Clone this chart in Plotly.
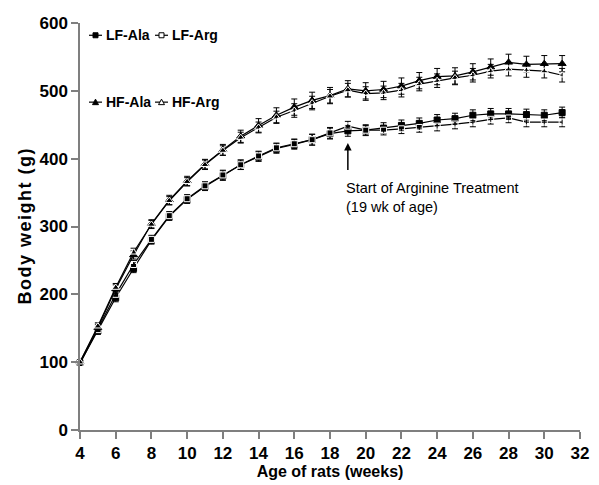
import plotly.graph_objects as go

weeks = list(range(4, 32))

lf_ala = [99, 146, 195, 238, 280, 315, 340, 359, 375, 391, 403, 415, 421, 428,
          437, 441, 442, 445, 449, 452, 457, 459, 464, 466, 466, 465, 464, 468]
lf_arg = [98, 148, 200, 244, 281, 316, 341, 360, 376, 391, 404, 416, 422, 428,
          438, 448, 442, 442, 444, 446, 448, 451, 454, 458, 460, 454, 454, 454]
hf_ala = [100, 151, 208, 258, 304, 339, 367, 392, 413, 433, 449, 464, 476, 486,
          493, 503, 500, 502, 507, 515, 521, 522, 528, 535, 542, 539, 540, 540]
hf_arg = [100, 153, 210, 262, 303, 338, 366, 391, 412, 431, 446, 461, 471, 482,
          492, 501, 496, 497, 501, 510, 515, 519, 523, 529, 532, 530, 529, 523]

lf_ala_err = [3, 5, 6, 6, 6, 6, 6, 6, 7, 7, 7, 7, 7, 8, 8, 8, 8, 8, 8, 8, 8, 8, 8, 8, 8, 8, 8, 8]
lf_arg_err = [3, 5, 6, 6, 6, 6, 6, 6, 7, 7, 7, 7, 7, 8, 8, 7, 7, 7, 7, 7, 7, 7, 7, 7, 7, 7, 7, 7]
hf_ala_err = [3, 5, 6, 6, 6, 7, 7, 7, 8, 9, 10, 11, 12, 12, 12, 12, 12, 12, 12, 12, 12, 12, 12, 12, 12, 12, 12, 12]
hf_arg_err = [3, 5, 6, 6, 6, 6, 6, 7, 7, 8, 8, 9, 10, 10, 10, 10, 10, 10, 10, 10, 10, 10, 10, 10, 10, 10, 10, 10]

x_ticks = list(range(4, 33, 2))
y_ticks = list(range(0, 601, 100))

series_names = ["LF-Ala", "LF-Arg", "HF-Ala", "HF-Arg"]
y_title = "Body weight (g)"
x_title = "Age of rats (weeks)"

SANS = "Liberation Sans, Arial, Helvetica, sans-serif"

# the page body has an 8px margin, so the figure starts at (8, 8) in the window
OFF = 8
W, H = 599 - OFF, 485 - OFF
# plot area in window pixels: x 80..580, y 22.7..430.5
L = 80 - OFF
R = W - (580 - OFF)
T = 22.7 - OFF
B = H - (430.5 - OFF)
PW, PH = W - L - R, H - T - B


def px_x(p):
    return (p - OFF - L) / PW


def px_y(p):
    return (H - B - (p - OFF)) / PH


series = [
    (series_names[0], lf_ala, lf_ala_err, "square", True),
    (series_names[1], lf_arg, lf_arg_err, "square-open", False),
    (series_names[2], hf_ala, hf_ala_err, "triangle-up", True),
    (series_names[3], hf_arg, hf_arg_err, "triangle-up-open", False),
]

fig = go.Figure()
for name, vals, errs, sym, filled in series:
    fig.add_trace(go.Scatter(
        x=weeks, y=vals, name=name, mode="lines+markers",
        line=dict(color="black", width=1.2),
        marker=dict(symbol=sym, size=6 if "square" in sym else 7,
                    color="black" if filled else "white",
                    line=dict(color="black", width=1)),
        error_y=dict(type="data", array=errs, visible=True, color="black", thickness=1, width=3),
        cliponaxis=False, showlegend=False,
    ))

# hand-made legend (two rows, two entries each), window-pixel positions
legend_slots = [(89, 35), (155, 35), (89, 102), (155, 102)]
shapes = []
for (name, vals, errs, sym, filled), (sx, sy) in zip(series, legend_slots):
    xa, ya = px_x(sx + 6.5), px_y(sy)
    shapes.append(dict(type="line", xref="paper", yref="paper",
                       x0=px_x(sx), x1=px_x(sx + 13), y0=ya, y1=ya,
                       line=dict(color="black", width=1.2), layer="above"))
    fill = "black" if filled else "white"
    if "square" in sym:
        shapes.append(dict(type="rect", xref="paper", yref="paper", xsizemode="pixel", ysizemode="pixel",
                           xanchor=xa, yanchor=ya, x0=-2.5, x1=2.5, y0=-2.5, y1=2.5,
                           fillcolor=fill, line=dict(color="black", width=1), layer="above"))
    else:
        shapes.append(dict(type="path", xref="paper", yref="paper", xsizemode="pixel", ysizemode="pixel",
                           xanchor=xa, yanchor=ya, path="M-3,-2.5 L3,-2.5 L0,3 Z",
                           fillcolor=fill, line=dict(color="black", width=1), layer="above"))
    fig.add_annotation(x=px_x(sx + 15), y=ya, xref="paper", yref="paper", xanchor="left", yanchor="middle",
                       text=name, showarrow=False,
                       font=dict(family=SANS, size=14, color="black", weight="bold"))

fig.add_annotation(x=19, y=423, ax=19, ay=381, axref="x", ayref="y", xref="x", yref="y",
                   text="", showarrow=True, arrowhead=2, arrowsize=1, arrowwidth=1.5, arrowcolor="black")
fig.add_annotation(x=19, y=372, xref="x", yref="y", xanchor="left", yanchor="top",
                   text="Start of Arginine Treatment<br>(19 wk of age)", showarrow=False, align="left",
                   xshift=-4,
                   font=dict(family=SANS, size=14.5, color="black"))

# the reference y title is letter-spaced: put a hair space between characters
spaced_y_title = "\u200a".join(y_title)

axis_common = dict(showline=True, linecolor="#7f7f7f", linewidth=1.5, ticks="outside",
                   ticklen=7, tickwidth=1.5, tickcolor="#7f7f7f", showgrid=False, zeroline=False,
                   automargin=False,
                   tickfont=dict(family=SANS, size=17, color="black", weight="bold"))

fig.update_layout(
    width=W, height=H,
    margin=dict(l=L, r=R, t=T, b=B, autoexpand=False),
    plot_bgcolor="white", paper_bgcolor="white",
    shapes=shapes,
    xaxis=dict(range=[4, 32], tickvals=x_ticks, ticktext=[str(v) for v in x_ticks],
               title=dict(text=x_title, standoff=2,
                          font=dict(family=SANS, size=16, color="black", weight="bold")),
               **axis_common),
    yaxis=dict(range=[0, 600], tickvals=y_ticks, ticktext=[str(v) for v in y_ticks],
               title=dict(text=spaced_y_title, standoff=3,
                          font=dict(family=SANS, size=18, color="black", weight="bold")),
               **axis_common),
)

fig.write_html("out.html")
